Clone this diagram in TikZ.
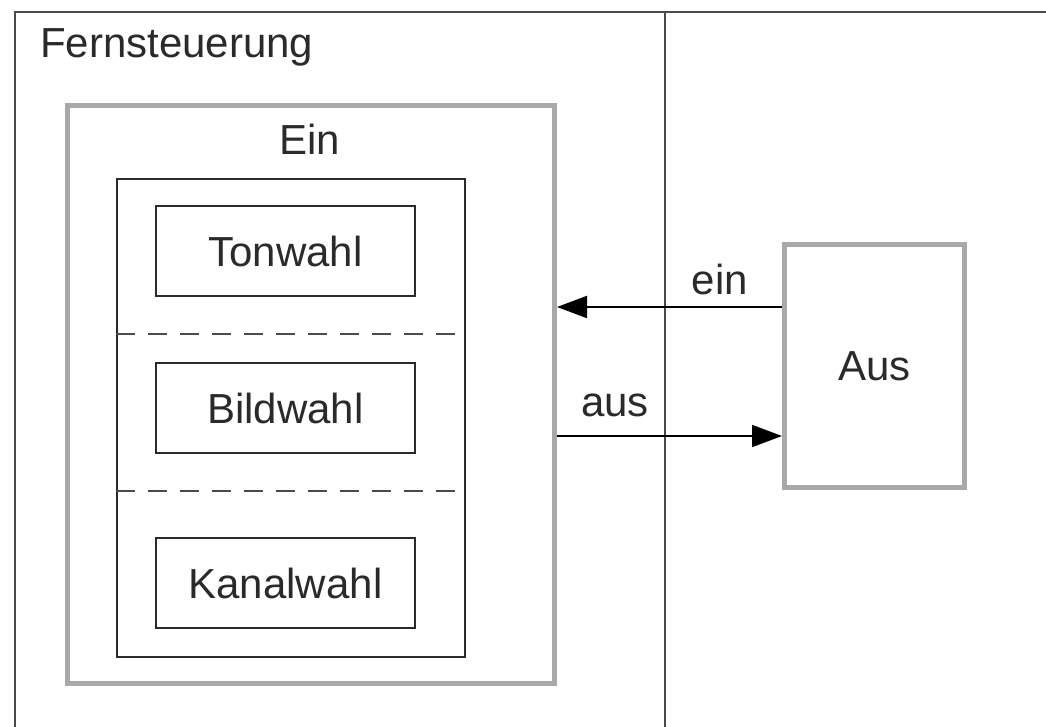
\documentclass[tikz,border=0pt]{standalone}
\usepackage{fontspec}
\setmainfont{Liberation Sans}
\usetikzlibrary{arrows.meta}
\definecolor{frameline}{HTML}{4A4A4A}
\definecolor{statebox}{HTML}{A8A8A8}
\definecolor{inkdark}{HTML}{2A2A2A}
\tikzset{
  every node/.style={font=\fontsize{42}{50}\selectfont, text=inkdark},
  lane/.style={draw=frameline, line width=2.2pt},
  superstate/.style={draw=statebox, line width=5pt, rectangle, inner sep=0pt},
  region/.style={draw=inkdark, line width=2pt, rectangle, inner sep=0pt},
  substate/.style={draw=inkdark, line width=2pt, rectangle, inner sep=0pt,
    minimum width=259pt, minimum height=90pt},
  divider/.style={draw=frameline, line width=2.4pt, dash pattern=on 19pt off 13pt},
  transition/.style={draw=black, line width=2pt,
    -{Triangle[length=30pt,width=22pt]}},
  label/.style={inner sep=0pt}
}
\begin{document}
\begin{tikzpicture}[x=1pt, y=-1pt]
  \useasboundingbox (0,0) rectangle (1046,727);
  \fill[white] (0,0) rectangle (1046,727);

  % swimlane frame
  \coordinate (laneTL) at (15,12);
  \coordinate (laneTR) at (1046,12);
  \coordinate (laneBL) at (15,727);
  \coordinate (midT) at (665,12);
  \coordinate (midB) at (665,727);
  \draw[lane] (laneBL) -- (laneTL) -- (laneTR);
  \draw[lane] (midT) -- (midB);
  \node[label, anchor=west] (lanetitle) at (40,47) {Fernsteuerung};

  % composite state "Ein"
  \node[superstate, minimum width=487pt, minimum height=578pt] (ein) at (311,394.5) {};
  \node[label] (eintitle) at (310,139) {Ein};
  \node[region, minimum width=348pt, minimum height=478pt] (regions) at (291,418) {};
  \draw[divider] (regions.west |- 0,334) -- (regions.east |- 0,334);
  \draw[divider] (regions.west |- 0,491) -- (regions.east |- 0,491);

  \node[substate] (ton) at (285.5,251) {Tonwahl};
  \node[substate] (bild) at (285.5,408) {Bildwahl};
  \node[substate] (kanal) at (285.5,583) {Kanalwahl};

  % state "Aus"
  \node[superstate, minimum width=180pt, minimum height=243pt] (aus) at (874.5,366) {Aus};

  % transitions
  \draw[transition] (aus.west |- 0,307) -- (ein.east |- 0,307);
  \draw[transition] (ein.east |- 0,436) -- (aus.west |- 0,436);
  \node[label] (einlabel) at (720,279) {ein};
  \node[label] (auslabel) at (615,405) {aus};
\end{tikzpicture}
\end{document}
